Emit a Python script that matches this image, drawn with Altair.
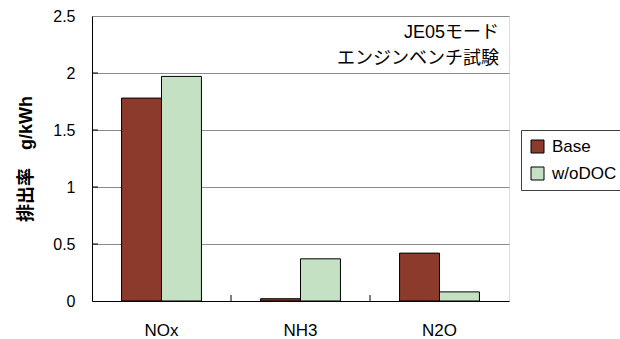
import altair as alt
import pandas as pd

# Emission rates (g/kWh) per species, JE05 mode engine bench test
species = ["NOx", "NH3", "N2O"]
base = [1.78, 0.02, 0.42]
wo_doc = [1.97, 0.37, 0.08]
series = ["Base", "w/oDOC"]
colors = ["#8B3A2C", "#C4E2C3"]
note_lines = ["JE05モード", "エンジンベンチ試験"]
y_ticks = [0.5, 1, 1.5, 2]

rows = []
for i, s in enumerate(species):
    rows.append({"species": s, "series": "Base", "value": base[i]})
    rows.append({"species": s, "series": "w/oDOC", "value": wo_doc[i]})
df = pd.DataFrame(rows)

FONT = "Liberation Sans, Noto Sans CJK JP, sans-serif"
y_scale = alt.Scale(domain=[0, 2.5], nice=False)

x_enc = alt.X(
    "species:N",
    sort=species,
    scale=alt.Scale(paddingInner=0, paddingOuter=0),
    axis=alt.Axis(
        title=None, labelAngle=0, ticks=False, domain=True, domainColor="#000000",
        labelFontSize=17, labelPadding=21, labelColor="#000000", labelFont=FONT,
    ),
)

bars = alt.Chart(df).mark_bar(stroke="#000000", strokeWidth=1).encode(
    x=x_enc,
    xOffset=alt.XOffset(
        "series:N", sort=series,
        scale=alt.Scale(paddingInner=0, paddingOuter=0.74),
    ),
    y=alt.Y(
        "value:Q",
        scale=y_scale,
        axis=alt.Axis(
            title="排出率　g/kWh", values=[0, 0.5, 1, 1.5, 2, 2.5], format=".1~f",
            grid=True, gridColor="#8a8a8a", gridWidth=1,
            ticks=False, tickSize=0, domainColor="#000000",
            labelFontSize=16, labelColor="#000000", labelPadding=17, labelFont=FONT,
            titleFontSize=18, titleFontWeight="bold", titleColor="#000000",
            titlePadding=17, titleFont=FONT,
        ),
    ),
    color=alt.Color(
        "series:N", sort=series,
        scale=alt.Scale(domain=series, range=colors),
        legend=alt.Legend(
            title=None, orient="none", legendX=429, legendY=114,
            symbolType="square", symbolSize=169, symbolStrokeColor="#000000",
            symbolStrokeWidth=1, symbolOpacity=1,
            labelFontSize=17, labelColor="#000000", labelFont=FONT,
            fillColor="#ffffff", strokeColor="#404040", padding=8,
            rowPadding=9, labelOffset=6,
        ),
    ),
)

# inward tick marks on the value axis
tick_df = pd.DataFrame({"v": y_ticks})
yticks = alt.Chart(tick_df).mark_rule(color="#000000", strokeWidth=1).encode(
    y=alt.Y("v:Q", scale=y_scale),
    x=alt.value(0),
    x2=alt.value(6),
)

# short separators between species groups on the baseline
sep_df = pd.DataFrame({"species": species[1:]})
seps = alt.Chart(sep_df).mark_rule(color="#000000", strokeWidth=1).encode(
    x=alt.X("species:N", sort=species, bandPosition=0),
    y=alt.value(285),
    y2=alt.value(279),
)

note_df = pd.DataFrame({"note": ["\n".join(note_lines)]})
note = alt.Chart(note_df).mark_text(
    align="right", baseline="top", fontSize=18, lineHeight=26,
    lineBreak="\n", font=FONT, color="#000000",
).encode(
    x=alt.value(407),
    y=alt.value(8),
    text="note:N",
)

chart = alt.layer(bars, yticks, seps, note).properties(
    width=417, height=285,
    autosize=alt.AutoSizeParams(type="none"),
    padding={"left": 92, "top": 16, "right": 111, "bottom": 38},
).configure_view(
    stroke="#000000", strokeWidth=1
).configure(background="#ffffff")

chart.save("out.html", embed_options={"renderer": "svg", "actions": False})
